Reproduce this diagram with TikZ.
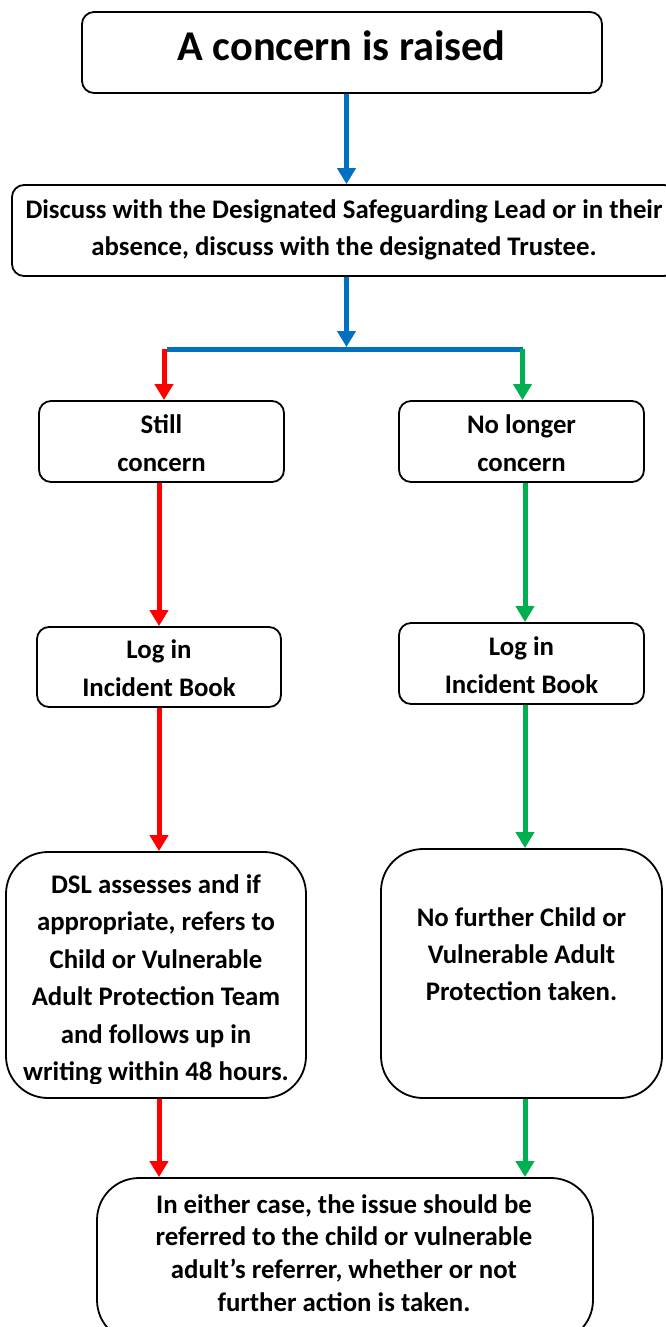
\documentclass[tikz,border=0pt]{standalone}
\usepackage{fontspec}
\setmainfont{Carlito}
\usetikzlibrary{arrows.meta}
\definecolor{cblue}{HTML}{0070C0}
\definecolor{cred}{HTML}{FF0000}
\definecolor{cgreen}{HTML}{00B050}
\begin{document}
\begin{tikzpicture}[x=1pt,y=-1pt,
  box/.style={draw=black, line width=1.8pt, rounded corners=12pt, inner sep=0pt, fill=white},
  bigbox/.style={box, rounded corners=42pt},
  txt/.style={align=center, inner sep=0pt, font=\bfseries\fontsize{26.8}{37.5}\selectfont},
  conn/.style={line width=5pt, -{Triangle[width=18pt,length=16pt]}},
  plain/.style={line width=5pt}]
\fill[white] (0,0) rectangle (666,1327);
\useasboundingbox (0,0) rectangle (666,1327);

% boxes
\node[box, minimum width=520pt, minimum height=81pt] (b1) at (342,52.5) {};
\node[box, minimum width=664pt, minimum height=91pt] (b2) at (344,230.5) {};
\node[box, minimum width=245pt, minimum height=81pt] (s1) at (161.5,441.5) {};
\node[box, minimum width=245pt, minimum height=81pt] (n1) at (521.5,441.5) {};
\node[box, minimum width=244pt, minimum height=80pt] (l1) at (159,667) {};
\node[box, minimum width=245pt, minimum height=81pt] (l2) at (521.5,663.5) {};
\node[bigbox, minimum width=300pt, minimum height=246pt] (d1) at (156,975) {};
\node[bigbox, minimum width=281pt, minimum height=249pt] (r1) at (521.5,973.5) {};
\node[bigbox, minimum width=496pt, minimum height=164pt] (e1) at (345,1260) {};

% texts
\node[txt, font=\bfseries\fontsize{42.4}{50}\selectfont] (t1) at (341.5,50.5) {\strut A concern is raised\strut};
\node[txt, font=\bfseries\fontsize{26.8}{37}\selectfont] (t2) at (344,229.6) {\strut Discuss with the Designated Safeguarding Lead or in their\\absence, discuss with the designated Trustee.\strut};
\node[txt, font=\bfseries\fontsize{26.8}{38}\selectfont] (ts) at (161.5,444.9) {\strut Still\\concern\strut};
\node[txt, font=\bfseries\fontsize{26.8}{38}\selectfont] (tn) at (521.5,444.9) {\strut No longer\\concern\strut};
\node[txt, font=\bfseries\fontsize{26.8}{38}\selectfont] (tl1) at (159,669.9) {\strut Log in\\Incident Book\strut};
\node[txt, font=\bfseries\fontsize{26.8}{38}\selectfont] (tl2) at (521.5,666.9) {\strut Log in\\Incident Book\strut};
\begin{scope}
\clip (0,0) rectangle (666,1083.5);
\node[txt, font=\bfseries\fontsize{26.8}{37.4}\selectfont] (td) at (156,979.5) {\strut DSL assesses and if\\appropriate, refers to\\Child or Vulnerable\\Adult Protection Team\\and follows up in\\writing within 48 hours.\strut};
\end{scope}
\node[txt, font=\bfseries\fontsize{26.8}{37}\selectfont] (tr) at (521.5,956) {\strut No further Child or\\Vulnerable Adult\\Protection taken.\strut};
\node[txt, font=\bfseries\fontsize{26.8}{32.7}\selectfont] (te) at (344,1255.5) {\strut In either case, the issue should be\\referred to the child or vulnerable\\adult’s referrer, whether or not\\further action is taken.\strut};

% connector coordinates
\coordinate (ax) at (346.5,0);
\coordinate (sp) at (346.5,347);
\coordinate (hl) at (164,349);
\coordinate (hr) at (522.5,349);
\coordinate (gx) at (525,0);

% connectors
\draw[conn, cblue] (b1.south -| ax) -- (b2.north -| ax);
\draw[conn, cblue] (b2.south -| ax) -- (sp);
\draw[plain, cblue] ([xshift=3pt]hl) -- (hr);
\draw[conn, cred] (hl) -- (hl |- s1.north);
\draw[conn, cgreen] (hr) -- (hr |- n1.north);
\draw[conn, cred] (l1.north |- s1.south) -- (l1.north);
\draw[conn, cgreen] (n1.south -| gx) -- (l2.north -| gx);
\draw[conn, cred] (l1.south) -- (l1.south |- d1.north);
\draw[conn, cgreen] (l2.south -| gx) -- (r1.north -| gx);
\draw[conn, cred] (l1.south |- d1.south) -- (l1.south |- e1.north);
\draw[conn, cgreen] (r1.south -| gx) -- (e1.north -| gx);
\end{tikzpicture}
\end{document}
